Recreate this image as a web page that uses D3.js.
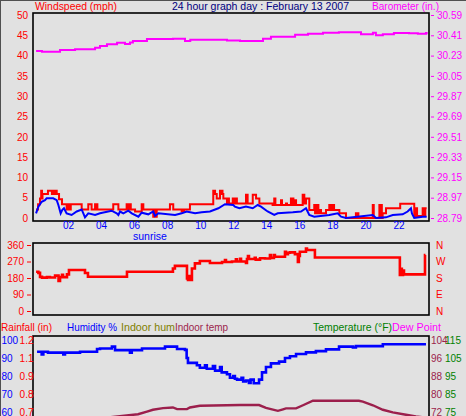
<!DOCTYPE html>
<html>
<head>
<meta charset="utf-8">
<script src="https://cdn.jsdelivr.net/npm/d3@7"></script>
<style>
  body { margin: 0; background: #e1e1e1; }
  svg { display: block; font-family: "Liberation Sans", Arial, sans-serif; font-size: 10.5px; }
</style>
</head>
<body>
<svg id="chart" width="466" height="416"></svg>
<script>
// values, hour of day -> value
const hourTicks = [2, 4, 6, 8, 10, 12, 14, 16, 18, 20, 22];
const windTicks = [0, 5, 10, 15, 20, 25, 30, 35, 40, 45, 50];
const baroTicks = [28.79, 28.97, 29.15, 29.33, 29.51, 29.69, 29.87, 30.05, 30.23, 30.41, 30.59];
const dirTicks = [0, 90, 180, 270, 360];
const dirLabels = ["N", "E", "S", "W", "N"];
const humTicks = [60, 70, 80, 90, 100];
const rainTicks = [0.7, 0.825, 0.95, 1.075, 1.2];
const rainLabels = ["0.7", "0.8", "0.9", "1.1", "1.2"];
const inTempTicks = [72, 80, 88, 96, 104];
const tempTicks = [75, 85, 95, 105, 115];
const sunriseHour = 6.96;

const baro = [[0.07,30.27],[0.43,30.264],[1.52,30.28],[2.43,30.286],[3.64,30.30],[3.94,30.315],[4.36,30.33],[4.97,30.344],[5.45,30.332],[5.75,30.347],[5.93,30.359],[6.78,30.377],[8.35,30.38],[9.08,30.359],[9.4,30.37],[11.01,30.37],[11.62,30.365],[12.41,30.36],[13.44,30.36],[13.8,30.38],[14.28,30.397],[15.43,30.397],[15.74,30.415],[16.52,30.424],[17.43,30.433],[18.39,30.438],[19.6,30.436],[19.73,30.42],[20.45,30.433],[20.63,30.41],[21.05,30.42],[21.72,30.43],[22.63,30.428],[23.17,30.424],[23.66,30.43],[23.7,30.42]];

const gust = [[0.07,2.1],[0.19,3.4],[0.31,4.8],[0.38,6.7],[0.43,4.8],[0.46,5.9],[0.79,6.7],[1.03,5.9],[1.07,6.7],[1.11,5.9],[1.15,6.7],[1.19,5.9],[1.23,6.7],[1.32,5.9],[1.46,4.6],[1.64,3.4],[1.92,2.1],[1.97,3.4],[2.02,2.1],[2.07,3.4],[2.12,2.1],[2.17,3.4],[2.83,2.1],[3.23,3.4],[3.43,2.1],[3.64,3.4],[3.69,2.1],[3.74,3.4],[3.78,2.1],[4.74,3.4],[5.05,2.1],[5.55,3.4],[5.6,2.1],[5.65,3.4],[5.7,2.1],[5.75,3.4],[5.8,2.1],[6.06,1.6],[6.46,3.4],[6.56,2.1],[7.16,0.3],[7.22,2.1],[7.27,0.3],[7.37,2.1],[8.17,3.4],[8.37,2.1],[8.88,1.6],[8.93,2.1],[8.98,1.6],[9.03,2.1],[9.38,3.4],[10.79,6.7],[10.9,5.9],[11.0,4.8],[11.2,6.7],[11.25,5.9],[11.3,6.7],[11.35,5.9],[11.4,4.8],[11.62,3.6],[11.68,4.8],[11.74,3.6],[11.97,4.8],[12.02,3.6],[12.07,4.8],[12.12,3.6],[12.17,4.8],[12.22,3.6],[12.77,5.7],[12.87,3.6],[13.18,5.7],[13.38,4.8],[13.58,3.6],[14.38,3.2],[14.48,4.8],[14.55,3.2],[14.89,4.4],[14.95,3.2],[15.19,3.6],[15.25,3.2],[15.49,4.8],[15.54,3.2],[15.59,4.8],[15.64,3.2],[15.69,4.4],[15.8,3.2],[16.2,5.7],[16.3,3.6],[16.4,4.8],[16.6,2.0],[16.9,3.2],[16.95,1.2],[17.0,3.2],[17.05,1.2],[17.1,3.2],[17.15,1.2],[17.2,2.0],[17.31,1.2],[17.61,2.0],[17.81,3.2],[17.86,2.0],[17.91,3.2],[17.96,2.0],[18.01,3.2],[18.1,2.0],[18.42,1.2],[18.82,0],[19.42,1.2],[19.47,0],[19.52,1.2],[19.57,0],[20.44,3.2],[20.5,0],[20.84,3.2],[20.89,0],[20.94,3.2],[20.99,0],[21.04,1.2],[21.24,2.4],[22.1,3.5],[22.95,0.5],[23.05,2.4],[23.12,0.5],[23.46,2.4],[23.56,0.5],[23.62,2.4],[23.7,2.4]];

const avg = [[0.07,1.15],[0.21,2.8],[0.41,4.0],[0.61,4.4],[0.71,4.85],[1.11,4.85],[1.32,4.4],[1.42,3.2],[1.56,1.15],[1.66,2.0],[1.76,2.4],[1.86,1.6],[1.92,1.15],[2.22,0.74],[2.53,1.6],[2.83,2.1],[2.93,1.15],[3.03,0.16],[3.23,1.15],[3.64,0.74],[3.94,1.15],[4.64,1.8],[4.95,1.15],[5.05,0.74],[5.15,1.6],[5.35,1.15],[5.65,1.8],[5.86,1.15],[6.26,0.33],[6.46,1.3],[6.86,0.9],[7.16,1.6],[7.27,0.5],[7.47,1.15],[8.48,0.74],[8.88,1.15],[9.18,1.6],[9.69,1.15],[10.09,1.4],[10.59,1.6],[11.1,2.4],[11.5,3.4],[12.0,3.2],[12.1,2.8],[12.37,2.4],[12.77,2.8],[13.18,2.4],[13.48,3.2],[13.68,2.8],[14.08,1.6],[14.48,0.74],[14.69,1.15],[15.6,1.4],[16.1,1.6],[16.4,2.4],[16.6,0.74],[16.9,0.33],[17.81,0.74],[18.32,1.15],[18.52,0.33],[18.82,0],[20.44,0.74],[20.64,0],[21.24,0.16],[21.65,0.74],[22.25,0.9],[22.55,1.6],[22.75,2.4],[22.81,1.15],[22.95,0],[23.46,0.33],[23.7,0.33]];

const dir = [[0.07,214],[0.21,208],[0.31,186],[0.43,182],[0.73,185],[0.91,183],[1.22,193],[1.43,164],[1.52,185],[1.64,198],[1.7,185],[1.94,200],[2.06,224],[3.03,207],[3.21,187],[5.57,214],[8.35,232],[8.47,246],[9.2,178],[9.26,169],[9.32,190],[9.38,169],[9.5,232],[9.68,260],[9.98,273],[10.59,262],[11.32,267],[11.5,278],[11.56,267],[11.92,270],[12.16,282],[12.22,270],[12.41,285],[12.47,270],[12.77,262],[12.83,284],[12.89,300],[12.95,284],[13.3,290],[13.36,280],[13.62,288],[13.92,286],[14.22,305],[14.28,290],[14.46,305],[14.52,296],[15.13,323],[15.19,310],[15.31,318],[15.43,320],[15.73,310],[15.91,267],[15.97,300],[16.03,323],[16.4,341],[16.46,333],[16.82,333],[16.94,292],[22.08,196],[22.14,230],[22.2,196],[22.27,220],[22.33,200],[23.6,305],[23.63,305]];

const humidity = [[0.13,93.5],[0.41,92],[0.51,93.5],[0.79,93],[1.72,92],[1.82,93],[2.73,93.5],[3.76,95],[3.94,95.3],[4.66,96.3],[4.85,94.4],[5.75,93],[5.86,94.4],[6.48,95.3],[7.87,96.3],[8.6,95],[9.08,94.5],[9.18,90],[9.26,87.3],[9.56,87.3],[9.8,86],[9.98,84.6],[10.29,86],[10.4,84],[10.59,84],[10.77,85.5],[10.9,83],[11.0,83],[11.2,85],[11.3,82],[11.5,82],[11.62,81],[11.8,79],[12.0,80],[12.1,78.5],[12.23,78],[12.5,79],[12.6,77],[12.77,77.5],[12.95,76.2],[13.05,78],[13.13,78],[13.24,76],[13.56,78],[13.74,82],[13.98,85],[14.28,87],[14.77,88],[15.13,90],[15.43,91],[15.8,92.2],[16.4,93.1],[17.0,93.8],[17.61,94.8],[18.4,96.3],[19.24,95.8],[19.42,96.6],[21.05,97.6],[23.66,97.6]];

const indoorTemp = [[0.07,66],[4.72,69.8],[5.27,70.2],[6.24,71],[6.78,72.2],[7.14,73],[7.75,73.7],[8.35,74],[8.6,73.3],[9.2,73.3],[9.38,74],[9.98,74.8],[12.41,75.1],[13.56,75.1],[13.98,73.8],[14.7,72.5],[15.01,73.2],[15.19,73.6],[15.8,73.6],[16.22,75],[16.82,77],[19.6,77],[19.84,76.6],[20.45,75],[21.05,73],[21.65,71.8],[22.45,70.8],[23.05,70],[23.66,69.5]];

const topLabels = ["Windspeed (mph)", "24 hour graph day : February 13 2007", "Barometer (in.)"];
const legendLabels = ["Rainfall (in)", "Humidity %", "Indoor hum", "Indoor temp", "Temperature (\u00b0F)", "Dew Point"];

const svg = d3.select("#chart");
const RED = "#ff0000", BLUE = "#0000ff", MAGENTA = "#ff00ff", NAVY = "#000080",
      OLIVE = "#808000", MAROON = "#9c1f4c", GREEN = "#008000";

const x = d3.scaleLinear().domain([0, 24]).range([34.9, 431.6]);
const windY = d3.scaleLinear().domain([0, 50]).range([218, 15]);
const baroY = d3.scaleLinear().domain([28.79, 30.59]).range([218, 15]);
const dirY = d3.scaleLinear().domain([0, 360]).range([311, 245]);
const humY = d3.scaleLinear().domain([60, 100]).range([412, 340]);
const rainY = d3.scaleLinear().domain([0.7, 1.2]).range([412, 340]);
const inTempY = d3.scaleLinear().domain([72, 104]).range([412, 340]);
const tempY = d3.scaleLinear().domain([75, 115]).range([412, 340]);

// outer frame
svg.append("rect")
    .attr("x", 0.5).attr("y", 0.5).attr("width", 480).attr("height", 440)
    .attr("fill", "#e1e1e1").attr("stroke", "#505050");

// three plot panels
const panels = [
  { id: "p1", y0: 13, y1: 221 },
  { id: "p2", y0: 243, y1: 315 },
  { id: "p3", y0: 336, y1: 470 }
];
const defs = svg.append("defs");
panels.forEach((p) => {
  defs.append("clipPath").attr("id", "clip-" + p.id)
    .append("rect")
      .attr("x", 34).attr("y", p.y0 + 1)
      .attr("width", 394).attr("height", p.y1 - p.y0 - 2);
  svg.append("rect")
      .attr("x", 33).attr("y", p.y0)
      .attr("width", 396).attr("height", p.y1 - p.y0)
      .attr("fill", "#e1e1e1")
      .attr("stroke", "#000")
      .attr("stroke-width", 1.6);
});

const drawLine = (data, yScale, color, width, curve, clipId) => {
  svg.append("path")
      .datum(data)
      .attr("clip-path", "url(#clip-" + clipId + ")")
      .attr("fill", "none")
      .attr("stroke", color)
      .attr("stroke-width", width)
      .attr("d", d3.line()
          .curve(curve)
          .x(function(d) { return x(d[0]); })
          .y(function(d) { return yScale(d[1]); }));
};

drawLine(baro, baroY, MAGENTA, 2, d3.curveStepAfter, "p1");
drawLine(gust, windY, RED, 2, d3.curveStepAfter, "p1");
drawLine(avg, windY, BLUE, 2, d3.curveLinear, "p1");
drawLine(dir, dirY, RED, 2.6, d3.curveStepAfter, "p2");
drawLine(indoorTemp, inTempY, MAROON, 2.4, d3.curveLinear, "p3");
drawLine(humidity, humY, BLUE, 2.6, d3.curveStepAfter, "p3");

// axes
const addAxis = (axis, tx, ty, color) => {
  const g = svg.append("g")
      .attr("transform", `translate(${tx},${ty})`)
      .attr("font-size", null)
      .attr("font-family", null)
      .call(axis);
  g.select(".domain").remove();
  g.selectAll("text").attr("fill", color);
  g.selectAll("line").attr("stroke", color);
  return g;
};

addAxis(d3.axisLeft(windY).tickValues(windTicks).tickSize(0).tickPadding(3), 31, 0, RED);
addAxis(d3.axisRight(baroY).tickValues(baroTicks).tickSize(3).tickPadding(3)
    .tickFormat(d3.format(".2f")), 431, 0, MAGENTA);
addAxis(d3.axisBottom(x).tickValues(hourTicks).tickSize(0).tickPadding(1)
    .tickFormat(d3.format("02d")), 0, 221, BLUE);
addAxis(d3.axisLeft(dirY).tickValues(dirTicks).tickSize(4).tickPadding(3), 31, 0, RED);
addAxis(d3.axisRight(dirY).tickValues(dirTicks).tickSize(0).tickPadding(3)
    .tickFormat(function(d, i) { return dirLabels[i]; }), 433, 0, RED);
addAxis(d3.axisRight(humY).tickValues(humTicks).tickSize(0).tickPadding(0), 1.5, 0, BLUE);
addAxis(d3.axisLeft(rainY).tickValues(rainTicks).tickSize(0).tickPadding(0)
    .tickFormat(function(d, i) { return rainLabels[i]; }), 33.5, 0, RED);
addAxis(d3.axisRight(inTempY).tickValues(inTempTicks).tickSize(0).tickPadding(0), 431, 0, MAROON);
addAxis(d3.axisRight(tempY).tickValues(tempTicks).tickSize(0).tickPadding(0), 445, 0, GREEN);

svg.append("text")
    .attr("x", x(sunriseHour)).attr("y", 240)
    .attr("text-anchor", "middle")
    .attr("fill", BLUE)
    .text("sunrise");

// header texts
const topX = [35, 172, 372];
const topW = [82, 177, 67];
const topColor = [RED, NAVY, MAGENTA];
topLabels.forEach((t, i) => {
  svg.append("text")
      .attr("x", topX[i]).attr("y", 10)
      .attr("textLength", topW[i]).attr("lengthAdjust", "spacingAndGlyphs")
      .attr("fill", topColor[i])
      .text(t);
});

const legX = [1, 67, 121, 175, 313, 392];
const legW = [51, 50, 54, 53, 79, 49];
const legColor = [RED, BLUE, OLIVE, MAROON, GREEN, MAGENTA];
legendLabels.forEach((t, i) => {
  svg.append("text")
      .attr("x", legX[i]).attr("y", 331)
      .attr("textLength", legW[i]).attr("lengthAdjust", "spacingAndGlyphs")
      .attr("fill", legColor[i])
      .text(t);
});
</script>
</body>
</html>
